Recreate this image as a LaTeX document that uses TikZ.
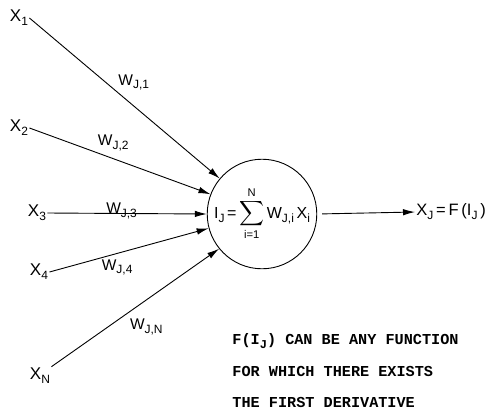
\documentclass[tikz,border=0pt]{standalone}
\usepackage{amsmath}
\usepackage{fontspec}
\setmainfont{Liberation Sans}
\setmonofont{Liberation Mono}
\usetikzlibrary{arrows.meta, positioning}

\newcommand{\lsub}[1]{\raisebox{-0.45ex}{\fontsize{12}{12}\selectfont #1}}

\begin{document}
\begin{tikzpicture}[x=1pt, y=-1pt, line width=0.9pt,
    inlabel/.style={font=\fontsize{17}{17}\selectfont, inner sep=1pt},
    wlabel/.style={font=\fontsize{15.5}{15.5}\selectfont, inner sep=1pt},
    weight/.style={-{Latex[length=12pt,width=6.5pt]}}]

    \useasboundingbox (0,0) rectangle (501,416);

    % Neuron with weighted sum
    \node[draw, circle, minimum size=100pt, inner sep=0pt, font=\fontsize{16}{16}\selectfont] (neuron) at (262,214) {
        I\lsub{J}\,=\,$\displaystyle\sum_{\text{i=1}}^{\text{N}}$\,W\lsub{J,i}\,X\lsub{i}
    };

    % Inputs
    \node[inlabel] (x1) at (19,18) {X\lsub{1}};
    \node[inlabel] (x2) at (19,128) {X\lsub{2}};
    \node[inlabel] (x3) at (37,213) {X\lsub{3}};
    \node[inlabel] (x4) at (39,272) {X\lsub{4}};
    \node[inlabel] (xn) at (40,376) {X\lsub{N}};

    % Weighted connections
    \draw[weight] (x1.east) -- (neuron.140) node[wlabel, pos=0.46, anchor=south west] {W\lsub{J,1}};
    \draw[weight] (x2.east) -- (neuron.159) node[wlabel, pos=0.37, anchor=south west] {W\lsub{J,2}};
    \draw[weight] (x3.east) -- (neuron.180) node[wlabel, pos=0.36, anchor=base west] {W\lsub{J,3}};
    \draw[weight] (x4.east) -- (neuron.195) node[wlabel, pos=0.32, anchor=north west] {W\lsub{J,4}};
    \draw[weight] (xn.north east) -- (neuron.219) node[wlabel, pos=0.46, anchor=north west, yshift=-5pt] {W\lsub{J,N}};

    % Output
    \node[wlabel, anchor=west, font=\fontsize{16.5}{16.5}\selectfont] (out) at (415,212) {X\lsub{J}\,=\,F\,(I\lsub{J}\,)};
    \draw[weight, shorten <=5pt] (neuron.east) -- (out.west);

    % Note
    \node[anchor=west, align=left, inner sep=0pt, font=\ttfamily\bfseries\fontsize{15.2}{31.5}\selectfont] (note) at (232,371) {
        F(I\lsub{J}) CAN BE ANY FUNCTION\\
        FOR WHICH THERE EXISTS\\
        THE FIRST DERIVATIVE
    };

\end{tikzpicture}
\end{document}
